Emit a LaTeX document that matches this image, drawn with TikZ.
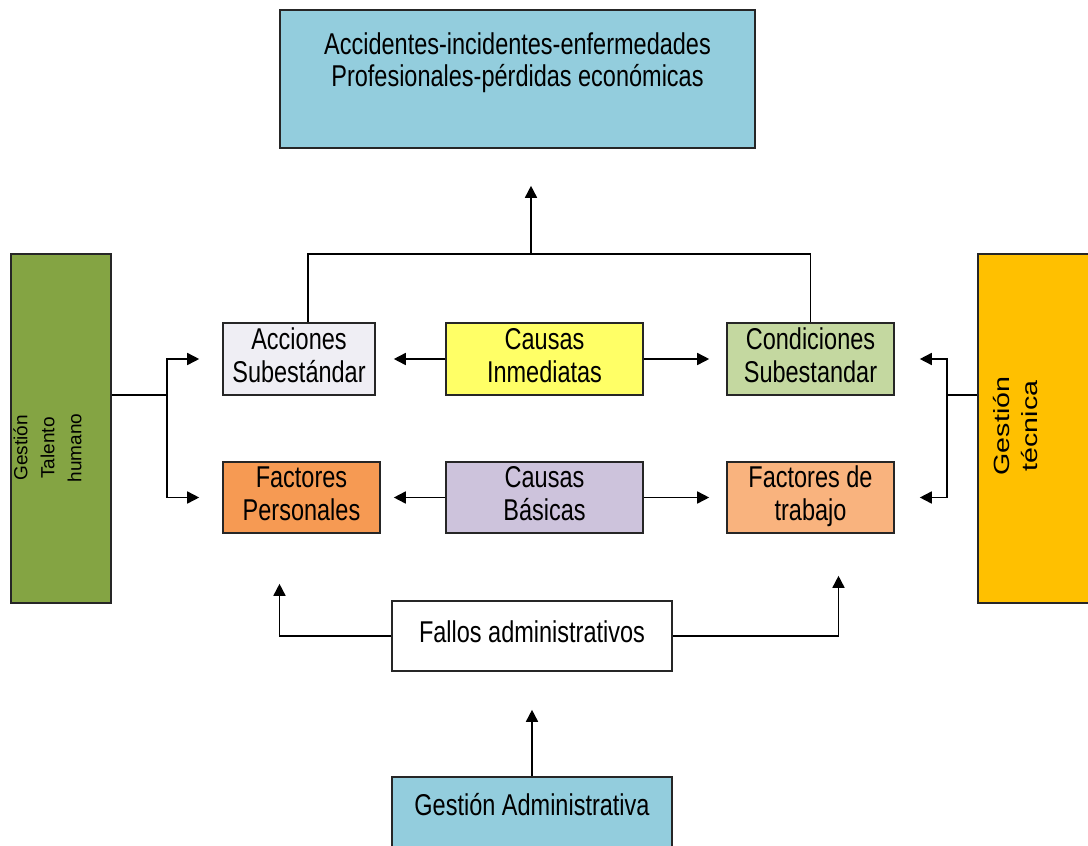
\documentclass[tikz,border=0pt]{standalone}
\usepackage{fontspec}
\setmainfont{Liberation Sans}
\usepackage{graphicx}
\usetikzlibrary{arrows.meta}

\definecolor{skyfill}{HTML}{93CDDD}
\definecolor{olivefill}{HTML}{84A443}
\definecolor{amberfill}{HTML}{FFC000}
\definecolor{mistfill}{HTML}{EFEEF4}
\definecolor{lemonfill}{HTML}{FFFF66}
\definecolor{sagefill}{HTML}{C4D8A0}
\definecolor{orangefill}{HTML}{F69A53}
\definecolor{lilacfill}{HTML}{CDC3DC}
\definecolor{peachfill}{HTML}{F9B37E}

% tall, narrow lettering
\newcommand\vtxt[1]{\scalebox{1}[1.28]{\begin{tabular}{@{}c@{}}#1\end{tabular}}}
\newcommand\rtxt[2]{\scalebox{#1}[1]{\begin{tabular}{@{}c@{}}#2\end{tabular}}}

\begin{document}
\begin{tikzpicture}[x=1pt,y=-1pt,
  box/.style={draw=black!85, line width=1.6pt, inner sep=0pt, align=center,
    font=\fontsize{23.5}{25.8}\selectfont},
  txt/.style={inner sep=0pt, align=center, font=\fontsize{23.5}{24}\selectfont},
  conn/.style={draw=black, line width=1.6pt},
  arr/.style={conn, -{Triangle[length=12pt,width=12pt]}}]
\useasboundingbox (0,0) rectangle (1088,846);

% outcome
\node[box, fill=skyfill, minimum width=475, minimum height=138] (effects) at (517.5,79) {};
\node[txt, anchor=north] (effectsText) at (517.5,33)
  {\vtxt{Accidentes-incidentes-enfermedades\\Profesionales-pérdidas económicas}};

% side management blocks
\node[box, fill=olivefill, minimum width=100, minimum height=349] (gth) at (61,428.5) {};
\node[inner sep=0pt, rotate=90, font=\fontsize{19}{27}\selectfont] (gthText) at (49,448)
  {\rtxt{1.0}{Gestión\\Talento\\humano}};
\node[box, fill=amberfill, minimum width=120, minimum height=349] (gt) at (1038,428.5) {};
\node[inner sep=0pt, rotate=90, font=\fontsize{22}{28}\selectfont] (gtText) at (1018,426)
  {\rtxt{1.3}{Gestión\\técnica}};

% immediate causes row
\node[box, fill=mistfill, minimum width=152, minimum height=72] (as) at (299,359) {\vtxt{Acciones\\Subestándar}};
\node[box, fill=lemonfill, minimum width=197, minimum height=72] (ci) at (544.5,359) {\vtxt{Causas\\Inmediatas}};
\node[box, fill=sagefill, minimum width=167, minimum height=72] (cs) at (810.5,359) {\vtxt{Condiciones\\Subestandar}};

% basic causes row
\node[box, fill=orangefill, minimum width=157, minimum height=71] (fp) at (301.5,497.5) {\vtxt{Factores\\Personales}};
\node[box, fill=lilacfill, minimum width=197, minimum height=71] (cb) at (544.5,497.5) {\vtxt{Causas\\Básicas}};
\node[box, fill=peachfill, minimum width=167, minimum height=71] (ft) at (810.5,497.5) {\vtxt{Factores de\\trabajo}};

% administration
\node[box, fill=white, minimum width=280, minimum height=70] (fa) at (532,636) {\vtxt{Fallos administrativos}};
\node[box, fill=skyfill, minimum width=280, minimum height=90] (ga) at (532,822) {};
\node[txt] (gaText) at (532,809) {\vtxt{Gestión Administrativa}};

% junction points
\coordinate (jtop) at (531,254);
\coordinate (jl) at (167,395);
\coordinate (jr) at (947,395);

% upward link to the outcome
\draw[conn] ([xshift=9pt]as.north) |- (jtop) -| (cs.north);
\draw[arr, shorten >=37pt] (jtop) -- (jtop |- effects.south);

% causes spreading sideways
\draw[arr, shorten >=18pt] (ci.west) -- (as.east);
\draw[arr, shorten >=17pt] (ci.east) -- (cs.west);
\draw[arr, shorten >=13pt] (cb.west) -- (fp.east);
\draw[arr, shorten >=17pt] (cb.east) -- (ft.west);

% human talent management
\draw[conn] (gth.east |- jl) -- (jl);
\draw[arr, shorten >=23pt] (jl) |- (as.west);
\draw[arr, shorten >=23pt] (jl) |- (fp.west);

% technical management
\draw[conn] (gt.west |- jr) -- (jr);
\draw[arr, shorten >=25pt] (jr) |- (cs.east);
\draw[arr, shorten >=25pt] (jr) |- (ft.east);

% administrative failures
\draw[arr, shorten >=50pt] (fa.west) -| ([xshift=-22pt]fp.south);
\draw[arr, shorten >=42pt] (fa.east) -| ([xshift=28pt]ft.south);
\draw[arr, shorten >=38pt] (ga.north) -- (fa.south);
\end{tikzpicture}
\end{document}
